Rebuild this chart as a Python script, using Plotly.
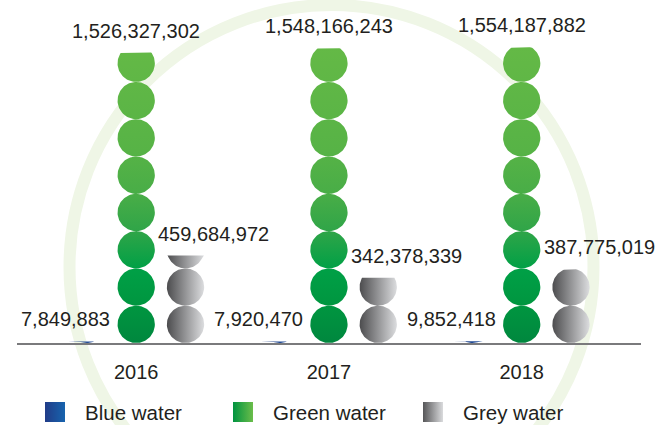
import numpy as np
import plotly.graph_objects as go

# data
years = ["2016", "2017", "2018"]
blue_water = [7849883, 7920470, 9852418]
green_water = [1526327302, 1548166243, 1554187882]
grey_water = [459684972, 342378339, 387775019]
legend_names = ["Blue water", "Green water", "Grey water"]

# geometry (px)
W, H = 655, 425
PLOT_L, PLOT_R, BASE = 17, 641, 343
UNIT = 196e6          # value of one full circle
DIAM = 37.3           # circle diameter in px
GROUP_PX = 192.75     # distance between year groups
FIRST = 136.2 - PLOT_L
OFFSET = 49.3 / GROUP_PX

x_range = [-FIRST / GROUP_PX, (PLOT_R - PLOT_L - FIRST) / GROUP_PX]
y_range = [0, BASE / DIAM * UNIT]
RX = DIAM / 2 / GROUP_PX
RY = UNIT / 2

FONT = "Liberation Sans, Arial, sans-serif"
TXT = "#231f20"


def stack(cx, value):
    # circles piled from the baseline, the top one cut at the value
    t = np.linspace(0, 2 * np.pi, 97)
    xs, ys = [], []
    for k in range(int(np.ceil(value / UNIT))):
        cy = (k + 0.5) * UNIT
        xs += list(cx + RX * np.cos(t)) + [None]
        ys += list(np.minimum(cy + RY * np.sin(t), value)) + [None]
    return xs, ys


green_scale = [[0, "#00873e"], [0.13, "#009640"], [0.25, "#00a046"], [0.38, "#30a548"],
               [0.5, "#48ad47"], [0.65, "#57b346"], [1, "#64b946"]]
grey_scale = [[0, "#4c4c4e"], [1, "#dcdddf"]]
blue_scale = [[0, "#1d3a82"], [1, "#2a5da8"]]

fig = go.Figure()

for i in range(len(years)):
    xb, yb = stack(i - OFFSET, blue_water[i])
    fig.add_trace(go.Scatter(x=xb, y=yb, mode="lines", line=dict(width=0), fill="toself",
                             fillgradient=dict(type="horizontal", colorscale=blue_scale,
                                               start=i - OFFSET - RX, stop=i - OFFSET + RX),
                             hoverinfo="skip", showlegend=False))
    xg, yg = stack(i, green_water[i])
    fig.add_trace(go.Scatter(x=xg, y=yg, mode="lines", line=dict(width=0), fill="toself",
                             fillgradient=dict(type="vertical", colorscale=green_scale,
                                               start=0, stop=max(green_water)),
                             hoverinfo="skip", showlegend=False))
    xr, yr = stack(i + OFFSET, grey_water[i])
    fig.add_trace(go.Scatter(x=xr, y=yr, mode="lines", line=dict(width=0), fill="toself",
                             fillgradient=dict(type="horizontal", colorscale=grey_scale,
                                               start=i + OFFSET - RX, stop=i + OFFSET + RX),
                             hoverinfo="skip", showlegend=False))

annotations = []
for i in range(len(years)):
    annotations.append(dict(x=i, y=green_water[i], text=f"{green_water[i]:,}", showarrow=False,
                            yanchor="middle", yshift=22))
    annotations.append(dict(x=i + OFFSET, y=grey_water[i], text=f"{grey_water[i]:,}", showarrow=False,
                            yanchor="middle", yshift=22, xshift=28))
    annotations.append(dict(x=i - OFFSET, y=0, text=f"{blue_water[i]:,}", showarrow=False,
                            yanchor="middle", yshift=24, xshift=-21))

# legend drawn by hand so the swatches can carry the gradients
sw_x = [45, 233, 423]
sw_scales = [[[0, "#213c88"], [1, "#1764ae"]],
             [[0, "#009340"], [1, "#6bbd4a"]],
             [[0, "#565658"], [1, "#dadbdd"]]]
for sx, sc, name in zip(sw_x, sw_scales, legend_names):
    fig.add_trace(go.Scatter(x=[sx, sx + 20, sx + 20, sx, sx], y=[402, 402, 422, 422, 402],
                             xaxis="x2", yaxis="y2", mode="lines", line=dict(width=0), fill="toself",
                             fillgradient=dict(type="horizontal", colorscale=sc, start=sx, stop=sx + 20),
                             hoverinfo="skip", showlegend=False))
    annotations.append(dict(x=sx + 38, y=412, xref="x2", yref="y2", text=name, showarrow=False,
                            xanchor="left", yanchor="middle", font=dict(size=20.5)))

fig.update_layout(
    width=W, height=H,
    margin=dict(l=0, r=0, t=0, b=0),
    paper_bgcolor="white", plot_bgcolor="rgba(0,0,0,0)",
    font=dict(family=FONT, size=20, color=TXT),
    showlegend=False,
    annotations=annotations,
    shapes=[dict(type="circle", xref="paper", yref="paper", layer="below",
                 x0=(331.5 - 262) / W, x1=(331.5 + 262) / W,
                 y0=1 - (267 + 262) / H, y1=1 - (267 - 262) / H,
                 line=dict(color="#eff6e6", width=12))],
    xaxis=dict(domain=[PLOT_L / W, PLOT_R / W], range=x_range, tickvals=list(range(len(years))),
               ticktext=years, showline=True, linecolor="#7a7a7c", linewidth=1.5, ticks="",
               showgrid=False, zeroline=False, ticklabelstandoff=10, tickfont=dict(size=20)),
    yaxis=dict(domain=[1 - BASE / H, 1], range=y_range, visible=False),
    xaxis2=dict(domain=[0, 1], range=[0, W], visible=False, anchor="y2"),
    yaxis2=dict(domain=[0, 1], range=[H, 0], visible=False, anchor="x2"),
)

# page body margin would shift the figure by 8px
fig.write_html("out.html", config={"displayModeBar": False},
               post_script="document.body.style.margin='0';")
